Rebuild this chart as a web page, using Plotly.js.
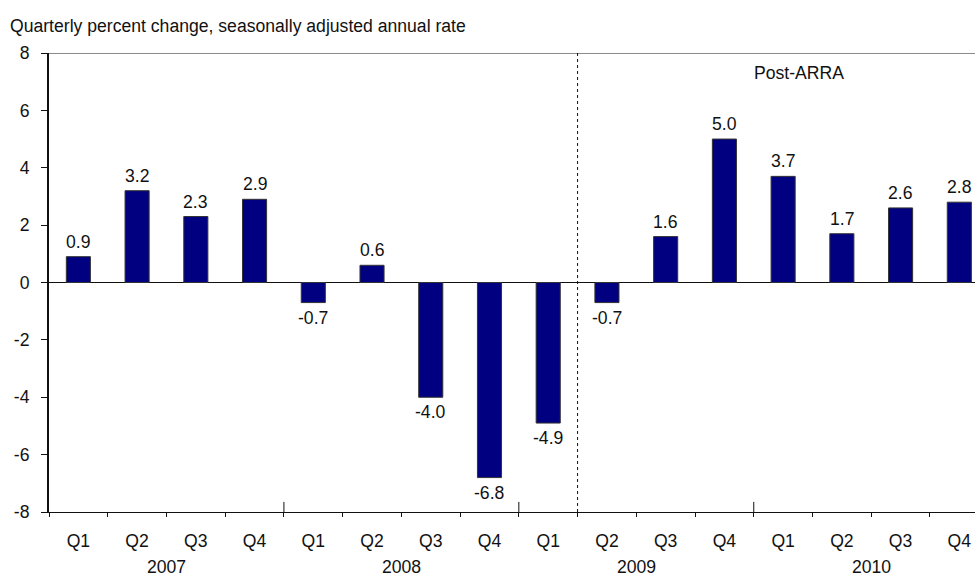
<!DOCTYPE html>
<html>
<head>
<meta charset="utf-8">
<script src="https://cdn.plot.ly/plotly-3.0.1.min.js"></script>
<style>body{margin:0;padding:0;background:#fff;}#chart{width:975px;height:577px;}</style>
</head>
<body>
<div id="chart"></div>
<script>
// Data
const years = ["2007", "2008", "2009", "2010"];
const quarters = ["Q1","Q2","Q3","Q4","Q1","Q2","Q3","Q4","Q1","Q2","Q3","Q4","Q1","Q2","Q3","Q4"];
const periodYears = ["2007","2007","2007","2007","2008","2008","2008","2008","2009","2009","2009","2009","2010","2010","2010","2010"];
const values = [0.9, 3.2, 2.3, 2.9, -0.7, 0.6, -4.0, -6.8, -4.9, -0.7, 1.6, 5.0, 3.7, 1.7, 2.6, 2.8];
const yTicks = [-8, -6, -4, -2, 0, 2, 4, 6, 8];
const titleText = "Quarterly percent change, seasonally adjusted annual rate";
const noteText = "Post-ARRA";

const cats = periodYears.map((y, i) => y + " " + quarters[i]);
const FONT = "Liberation Sans, Arial, Helvetica, sans-serif";
const FS = 17.6;

const trace = {
  type: "bar",
  x: cats,
  y: values,
  width: 0.41,
  marker: { color: "#000080", line: { color: "#333333", width: 1 } },
  hoverinfo: "x+y"
};

const annotations = [];
values.forEach((v, i) => {
  annotations.push({
    x: cats[i], y: v, xref: "x", yref: "y",
    text: v.toFixed(1), showarrow: false,
    yanchor: v >= 0 ? "bottom" : "top",
    yshift: v >= 0 ? 3 : -3,
    font: { family: FONT, size: FS, color: "#111" }
  });
});
// year labels
years.forEach((yr) => {
  const idx = periodYears.map((p, i) => p === yr ? i : -1).filter(i => i >= 0);
  const center = (idx[0] + idx[idx.length - 1]) / 2;
  annotations.push({
    x: center, y: 0, xref: "x", yref: "paper",
    text: yr, showarrow: false, yanchor: "middle", yshift: -55,
    font: { family: FONT, size: FS, color: "#111" }
  });
});
annotations.push({
  x: 12.27, y: 7.29, xref: "x", yref: "y", text: noteText, showarrow: false,
  font: { family: FONT, size: FS, color: "#111" }
});

const shapes = [];
// top border
shapes.push({ type: "line", xref: "paper", yref: "y", x0: 0, x1: 1, y0: 8, y1: 8, line: { color: "#666", width: 1.5 } });
// dashed separator between 2009 Q1 and Q2
shapes.push({ type: "line", xref: "x", yref: "y", x0: 8.5, x1: 8.5, y0: -8, y1: 8, line: { color: "#111", width: 1, dash: "dot" } });
// taller year-boundary ticks
[3.5, 7.5, 11.5].forEach(b => {
  shapes.push({ type: "line", xref: "x", yref: "paper", x0: b, x1: b, y0: 0, y1: 0.022, line: { color: "#111", width: 1 } });
});

const layout = {
  width: 975, height: 577,
  margin: { l: 49, r: 0, t: 52.5, b: 65.3, pad: 0 },
  paper_bgcolor: "#fff", plot_bgcolor: "#fff",
  showlegend: false,
  font: { family: FONT, size: FS, color: "#111" },
  title: {
    text: titleText, xref: "container", yref: "container",
    x: 10 / 975, xanchor: "left", y: 1 - 26 / 577, yanchor: "middle",
    font: { family: FONT, size: FS, color: "#111" }
  },
  xaxis: {
    type: "category",
    range: [-0.5, 15.267],
    tickmode: "array",
    tickvals: cats,
    ticktext: quarters,
    tickson: "boundaries",
    ticks: "outside", ticklen: 4, tickcolor: "#111", tickwidth: 1,
    showline: true, linecolor: "#111", linewidth: 1,
    showgrid: false, zeroline: false,
    ticklabelstandoff: 13,
    tickfont: { family: FONT, size: FS, color: "#111" },
    fixedrange: true
  },
  yaxis: {
    range: [-8, 8],
    tickmode: "array", tickvals: yTicks, ticktext: yTicks.map(t => String(t)),
    ticks: "outside", ticklen: 6, tickcolor: "#111", tickwidth: 1,
    showline: true, linecolor: "#111", linewidth: 2,
    showgrid: false,
    zeroline: true, zerolinecolor: "#111", zerolinewidth: 1,
    ticklabelstandoff: 8,
    tickfont: { family: FONT, size: FS, color: "#111" },
    fixedrange: true
  },
  annotations: annotations,
  shapes: shapes,
  bargap: 0.59
};

Plotly.newPlot("chart", [trace], layout, { displayModeBar: false, staticPlot: true });
</script>
</body>
</html>
